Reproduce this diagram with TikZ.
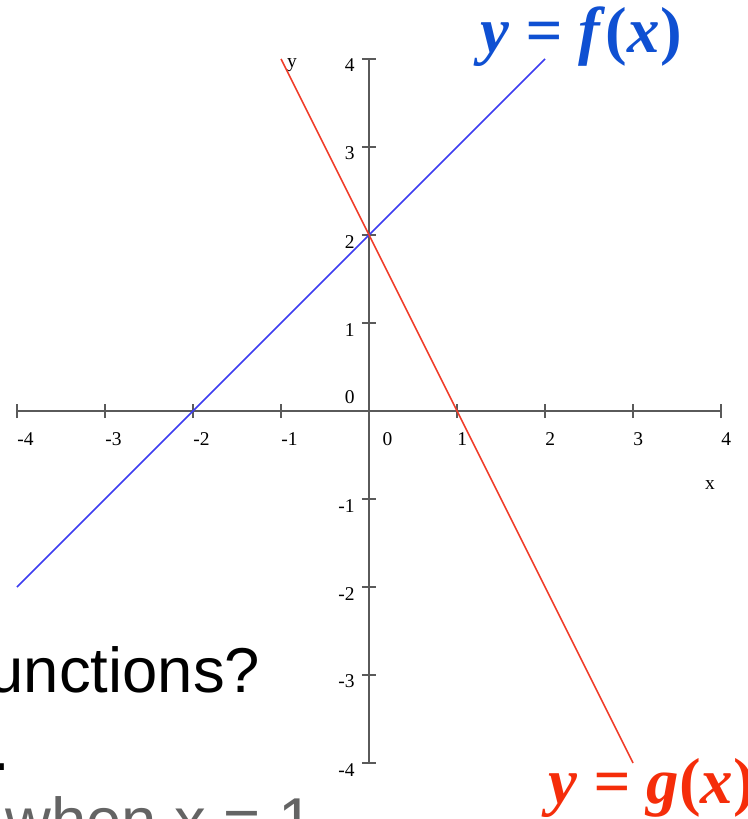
\documentclass[tikz,border=0pt]{standalone}
\usepackage{fontspec}
\setmainfont{Liberation Serif}
\setsansfont{Liberation Sans}
\usepackage{xcolor}
\usepackage{tikz}

\definecolor{axisgray}{RGB}{90,90,90}
\definecolor{fblue}{RGB}{60,60,240}
\definecolor{gred}{RGB}{240,60,40}
\definecolor{flabel}{RGB}{15,80,210}
\definecolor{glabel}{RGB}{245,45,10}
\definecolor{slidegray}{RGB}{100,100,100}

\tikzset{
    axisline/.style={draw=axisgray, line width=1pt},
    ticklabel/.style={inner sep=0pt, font=\fontsize{12.6}{14}\selectfont},
    funclabel/.style={inner sep=0pt, font=\fontsize{42}{46}\selectfont\bfseries\itshape},
    slidetext/.style={inner sep=0pt, font=\fontsize{41}{46}\selectfont\sffamily},
}

\begin{document}
\begin{tikzpicture}[x=2cm,y=2cm]
\useasboundingbox (-4.193,-4.636) rectangle (4.295,4.670);

% --------------------------------------------------
% Slide text behind the plot
% --------------------------------------------------
\node[slidetext, anchor=base east] (question) at (-1.235,-3.193) {unctions?};
\node[slidetext, anchor=base east] (dot) at (-4.08,-4.08) {.};
\node[slidetext, anchor=base east, text=slidegray] (when) at (-0.625,-4.898) {when x = 1};

% --------------------------------------------------
% Axes with ticks
% --------------------------------------------------
\draw[axisline] (-4,0) -- (4,0);
\draw[axisline] (0,-4) -- (0,4);

\foreach \x in {-4,-3,-2,-1,1,2,3,4} {
    \draw[axisline] (\x,-0.08) -- (\x,0.08);
    \node[ticklabel, anchor=west] (xl\x) at (\x,-0.318) {\x};
}
\draw[axisline] (0,-0.08) -- (0,0.08);
\node[ticklabel, anchor=west] (xl0) at (0.15,-0.318) {0};

\foreach \y in {-4,-3,-2,-1,1,2,3,4} {
    \draw[axisline] (-0.08,\y) -- (0.08,\y);
    \node[ticklabel, anchor=east] (yl\y) at (-0.16,\y-0.075) {\y};
}
\node[ticklabel, anchor=east] (yl0) at (-0.16,0.16) {0};

\node[ticklabel] (xname) at (3.875,-0.841) {x};
\node[ticklabel] (yname) at (-0.875,3.93) {y};

% --------------------------------------------------
% The two lines
% --------------------------------------------------
\draw[fblue, line width=1pt] (-4,-2) -- (2,4);
\draw[gred, line width=1pt] (-1,4) -- (3,-4);

\node[funclabel, text=flabel, anchor=base] (flab) at (2.41,4.07) {y = f\textup{(}x\textup{)}};
\node[funclabel, text=glabel, anchor=base west] (glab) at (2.034,-4.455) {y = g\textup{(}x\textup{)}};

\end{tikzpicture}
\end{document}
